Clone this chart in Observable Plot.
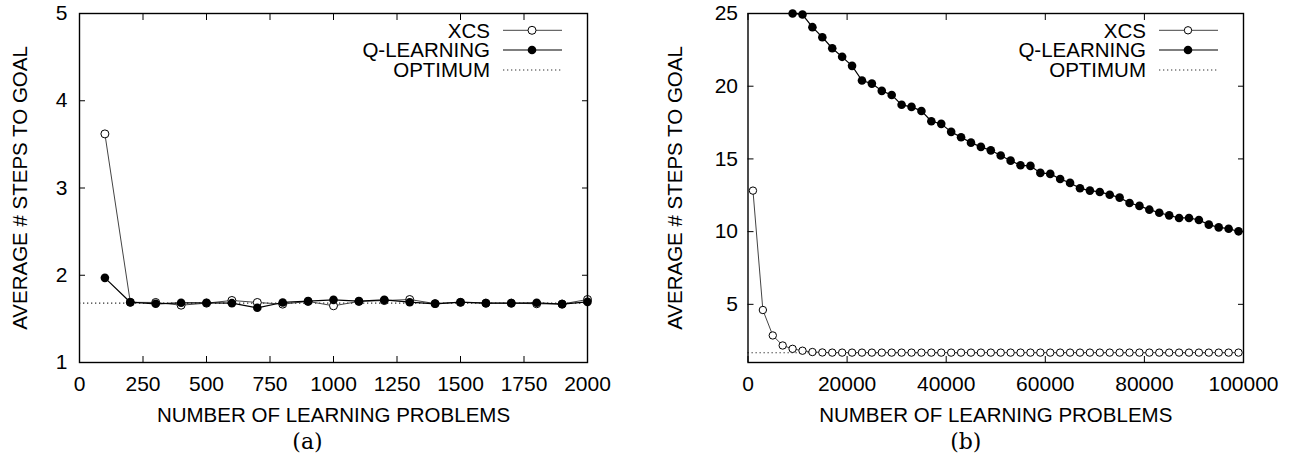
<!DOCTYPE html>
<html>
<head>
<meta charset="utf-8">
<script src="https://cdn.jsdelivr.net/npm/d3@7"></script>
<script src="https://cdn.jsdelivr.net/npm/@observablehq/plot@0.6"></script>
<style>
  html, body { margin: 0; padding: 0; background: white; }
  #row { display: flex; flex-direction: row; width: 1292px; height: 455px; }
</style>
</head>
<body>
<div id="row"></div>
<script>
// ---------- Data ----------
const seriesNames = ["XCS", "Q-LEARNING", "OPTIMUM"];

// Panel (a)
const problemsA = [100, 200, 300, 400, 500, 600, 700, 800, 900, 1000, 1100, 1200, 1300, 1400, 1500, 1600, 1700, 1800, 1900, 2000];
const xcsA = [3.62, 1.69, 1.688, 1.657, 1.68, 1.711, 1.688, 1.669, 1.70, 1.65, 1.70, 1.71, 1.722, 1.675, 1.69, 1.68, 1.68, 1.673, 1.67, 1.722];
const qA = [1.97, 1.691, 1.673, 1.684, 1.684, 1.68, 1.627, 1.688, 1.703, 1.718, 1.703, 1.718, 1.691, 1.673, 1.691, 1.68, 1.68, 1.684, 1.669, 1.695];
const optimumA = 1.68;
const xTicksA = [0, 250, 500, 750, 1000, 1250, 1500, 1750, 2000];
const yTicksA = [1, 2, 3, 4, 5];

// Panel (b)
const problemsB = [1000, 3000, 5000, 7000, 9000, 11000, 13000, 15000, 17000, 19000,
  21000, 23000, 25000, 27000, 29000, 31000, 33000, 35000, 37000, 39000,
  41000, 43000, 45000, 47000, 49000, 51000, 53000, 55000, 57000, 59000,
  61000, 63000, 65000, 67000, 69000, 71000, 73000, 75000, 77000, 79000,
  81000, 83000, 85000, 87000, 89000, 91000, 93000, 95000, 97000, 99000];
const xcsB = [12.82, 4.61, 2.86, 2.17, 1.94, 1.81, 1.72, 1.69, 1.68, 1.68,
  1.68, 1.68, 1.68, 1.68, 1.68, 1.68, 1.68, 1.68, 1.68, 1.68,
  1.68, 1.68, 1.68, 1.68, 1.68, 1.68, 1.68, 1.68, 1.68, 1.68,
  1.68, 1.68, 1.68, 1.68, 1.68, 1.68, 1.68, 1.68, 1.68, 1.68,
  1.68, 1.68, 1.68, 1.68, 1.68, 1.68, 1.68, 1.68, 1.68, 1.68];
const problemsQB = problemsB.slice(4);
const qB = [25.0, 24.93, 24.06, 23.37, 22.61, 22.02, 21.40, 20.39, 20.18, 19.68,
  19.40, 18.72, 18.58, 18.30, 17.59, 17.41, 16.86, 16.49, 16.12, 15.83,
  15.59, 15.23, 14.88, 14.56, 14.52, 14.04, 13.97, 13.62, 13.35, 12.98,
  12.82, 12.73, 12.54, 12.34, 11.97, 11.77, 11.51, 11.30, 11.12, 10.94,
  10.94, 10.80, 10.48, 10.29, 10.20, 10.02];
const optimumB = 1.67;
const xTicksB = [0, 20000, 40000, 60000, 80000, 100000];
const yTicksB = [5, 10, 15, 20, 25];

const xLabel = "NUMBER OF LEARNING PROBLEMS";
const yLabel = "AVERAGE # STEPS TO GOAL";

// ---------- Styles ----------
const FONT = "'Liberation Sans', Arial, Helvetica, sans-serif";
const FS = 20.5;
const XCS_STROKE = "#444";
const Q_STROKE = "#000";
const OPT_STYLE = {stroke: "#333", strokeDasharray: "1.3,2.7", strokeWidth: 1.2};

function panel(cfg) {
  const rowsX = cfg.xcsY.map((v, i) => ({x: cfg.xcsX[i], y: v}));
  const rowsQ = cfg.qY.map((v, i) => ({x: cfg.qX[i], y: v}));
  const fmt = d3.format("d");
  const svg = Plot.plot({
    width: 646,
    height: 455,
    marginLeft: cfg.ml,
    marginRight: cfg.mr,
    marginTop: 13,
    marginBottom: 93,
    style: {fontFamily: FONT, fontSize: FS + "px", background: "white", color: "black", overflow: "visible"},
    x: {domain: cfg.xDomain},
    y: {domain: cfg.yDomain},
    marks: [
      Plot.ruleY([cfg.optimum], OPT_STYLE),
      Plot.line(rowsX, {x: "x", y: "y", stroke: XCS_STROKE, strokeWidth: 1}),
      Plot.dot(rowsX, {x: "x", y: "y", r: cfg.rOpen, stroke: "black", fill: "white", strokeWidth: 1}),
      Plot.line(rowsQ, {x: "x", y: "y", stroke: Q_STROKE, strokeWidth: 1.2}),
      Plot.dot(rowsQ, {x: "x", y: "y", r: cfg.rFill, fill: "black", stroke: "none"}),
      Plot.frame({stroke: "black", strokeWidth: 1.4}),
      // inward ticks on all four sides
      Plot.axisX(cfg.xTicks, {anchor: "bottom", tickSize: 6, dy: -6, tickFormat: () => "", label: null}),
      Plot.axisX(cfg.xTicks, {anchor: "top", tickSize: 6, dy: 6, tickFormat: () => "", label: null}),
      Plot.axisY(cfg.yTicks, {anchor: "left", tickSize: 6, dx: 6, tickFormat: () => "", label: null}),
      Plot.axisY(cfg.yTicks, {anchor: "right", tickSize: 6, dx: -6, tickFormat: () => "", label: null}),
      // tick labels
      Plot.axisX(cfg.xTicks, {anchor: "bottom", tickSize: 0, tickPadding: 14, tickFormat: fmt, label: null, fontSize: 21}),
      Plot.axisY(cfg.yTicks, {anchor: "left", tickSize: 0, tickPadding: cfg.yPad, tickFormat: fmt, label: null, fontSize: 21}),
      // axis titles
      Plot.text([xLabel], {text: d => d, frameAnchor: "bottom", textAnchor: "middle", lineAnchor: "bottom", dy: 59.7, fontSize: FS, fill: "black"}),
      Plot.text([yLabel], {text: d => d, frameAnchor: "left", textAnchor: "middle", lineAnchor: "bottom", rotate: -90, dx: cfg.yLabelDx, fontSize: FS, fill: "black"}),
      Plot.text([cfg.caption], {text: d => d, frameAnchor: "bottom", textAnchor: "middle", lineAnchor: "bottom", dy: 86, dx: cfg.capDx, fontSize: 22, fill: "black", fontFamily: "'DejaVu Serif', 'Liberation Serif', serif"})
    ]
  });

  // legend (top-right inside the frame)
  const fr = 646 - cfg.mr;
  const top = 13;
  const s = d3.select(svg);
  const g = s.append("g").attr("font-family", FONT).attr("font-size", FS);
  const rowsY = [top + 17.3, top + 37, top + 57];
  seriesNames.forEach((name, i) => {
    const y = rowsY[i];
    g.append("text").attr("x", fr - 97).attr("y", y).attr("dy", "0.36em")
      .attr("text-anchor", "end").attr("fill", "black").text(name);
    const line = g.append("line").attr("x1", fr - 84).attr("x2", fr - 25)
      .attr("y1", y).attr("y2", y);
    if (i === 0) {
      line.attr("stroke", XCS_STROKE).attr("stroke-width", 1);
      g.append("circle").attr("cx", fr - 55).attr("cy", y).attr("r", cfg.rOpen)
        .attr("fill", "white").attr("stroke", "black");
    } else if (i === 1) {
      line.attr("stroke", Q_STROKE).attr("stroke-width", 1.2);
      g.append("circle").attr("cx", fr - 55).attr("cy", y).attr("r", cfg.rFill).attr("fill", "black");
    } else {
      line.attr("stroke", OPT_STYLE.stroke).attr("stroke-width", OPT_STYLE.strokeWidth)
        .attr("stroke-dasharray", OPT_STYLE.strokeDasharray);
    }
  });
  return svg;
}

const row = document.getElementById("row");
row.appendChild(panel({
  xcsX: problemsA, xcsY: xcsA, qX: problemsA, qY: qA, optimum: optimumA,
  xDomain: [0, 2000], yDomain: [1, 5], xTicks: xTicksA, yTicks: yTicksA,
  ml: 79, mr: 59, yPad: 12, yLabelDx: -52.3, caption: "(a)", capDx: -26,
  rOpen: 4, rFill: 4.3
}));
row.appendChild(panel({
  xcsX: problemsB, xcsY: xcsB, qX: problemsQB, qY: qB, optimum: optimumB,
  xDomain: [0, 100000], yDomain: [1, 25], xTicks: xTicksB, yTicks: yTicksB,
  ml: 101.5, mr: 49, yPad: 10, yLabelDx: -65.8, caption: "(b)", capDx: -30,
  rOpen: 3.7, rFill: 4.3
}));
</script>
</body>
</html>
